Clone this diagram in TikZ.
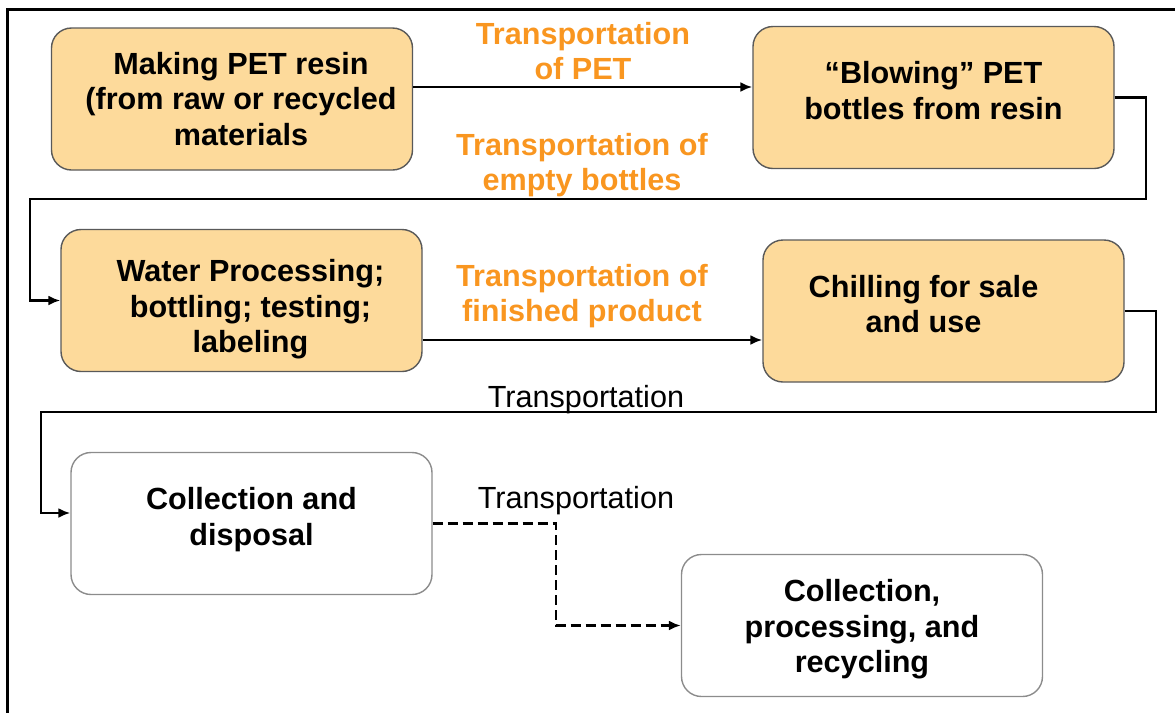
\documentclass[tikz,border=0pt]{standalone}
\usepackage{fontspec}
\setmainfont{Liberation Sans}
\usetikzlibrary{arrows.meta}
\definecolor{resinfill}{RGB}{253,218,155}
\definecolor{transorange}{RGB}{249,150,32}
\begin{document}
\begin{tikzpicture}[x=0.5pt,y=-0.5pt,
	stage/.style={draw=black!65, line width=0.7pt, fill=resinfill, rounded corners=10pt,
		minimum width=180.5pt, minimum height=71pt},
	endstage/.style={stage, draw=black!45, fill=white},
	stagetext/.style={align=center, font=\bfseries\fontsize{15.3pt}{17.8pt}\selectfont},
	translabel/.style={text=transorange, align=center, font=\bfseries\fontsize{15.3pt}{17.8pt}\selectfont},
	plainlabel/.style={anchor=base, font=\fontsize{15.3pt}{17.8pt}\selectfont},
	flow/.style={line width=1.2pt, -{Latex[length=6pt,width=5pt]}}]
		
		\useasboundingbox (0,0) rectangle (1175,713);
		
		% frame
		\draw[line width=1.5pt] (7,713) -- (7,9) -- (1175,9);
		
		% stages
		\node[stage, label={[stagetext, name=resintext, xshift=4.5pt]center:{Making PET resin\\(from raw or recycled\\materials}}] (resin) at (232,99) {};
		\node[stage, label={[stagetext, name=blowtext, yshift=3.5pt]center:{“Blowing” PET\\bottles from resin}}] (blow) at (933.5,97.5) {};
		\node[stage, label={[stagetext, name=watertext, xshift=4.5pt, yshift=-4.5pt]center:{Water Processing;\\bottling; testing;\\labeling}}] (water) at (241.5,300.5) {};
		\node[stage, label={[stagetext, name=chilltext, xshift=-10pt, yshift=3.5pt]center:{Chilling for sale\\and use}}] (chill) at (943.5,311) {};
		\node[endstage, label={[stagetext, name=collecttext, yshift=2pt]center:{Collection and\\disposal}}] (collect) at (251.5,523.5) {};
		\node[endstage, label={[stagetext, name=recycletext, yshift=-2pt]center:{Collection,\\processing, and\\recycling}}] (recycle) at (862,625.5) {};
		
		% transport labels
		\node[translabel] (petlabel) at (583,51) {Transportation\\of PET};
		\node[translabel] (emptylabel) at (582,165) {Transportation of\\empty bottles};
		\node[translabel] (productlabel) at (582,296) {Transportation of\\finished product};
		\node[plainlabel] (uselabel) at (586,407) {Transportation};
		\node[plainlabel] (wastelabel) at (576,508) {Transportation};
		
		% bends
		\coordinate (blowturn) at (1146,199);
		\coordinate (waterturn) at (30,199);
		\coordinate (chillturn) at (1156,412);
		\coordinate (collectturn) at (41,412);
		\coordinate (dashturn) at (556,570);
		
		% connectors
		\draw[flow] ([yshift=6pt]resin.east) coordinate (p1) -- (p1 -| blow.west);
		\draw[flow] (blow.east) -| (blowturn) -- (waterturn) |- (water.west);
		\draw[flow] ([yshift=-19.75pt]water.east) coordinate (p3) -- (p3 -| chill.west);
		\draw[flow] (chill.east) -| (chillturn) -- (collectturn) |- ([yshift=5.25pt]collect.west);
		\draw[flow, dash pattern=on 5pt off 2.5pt] (collect.east) -| (dashturn) |- (recycle.west);
		
	\end{tikzpicture}
\end{document}
